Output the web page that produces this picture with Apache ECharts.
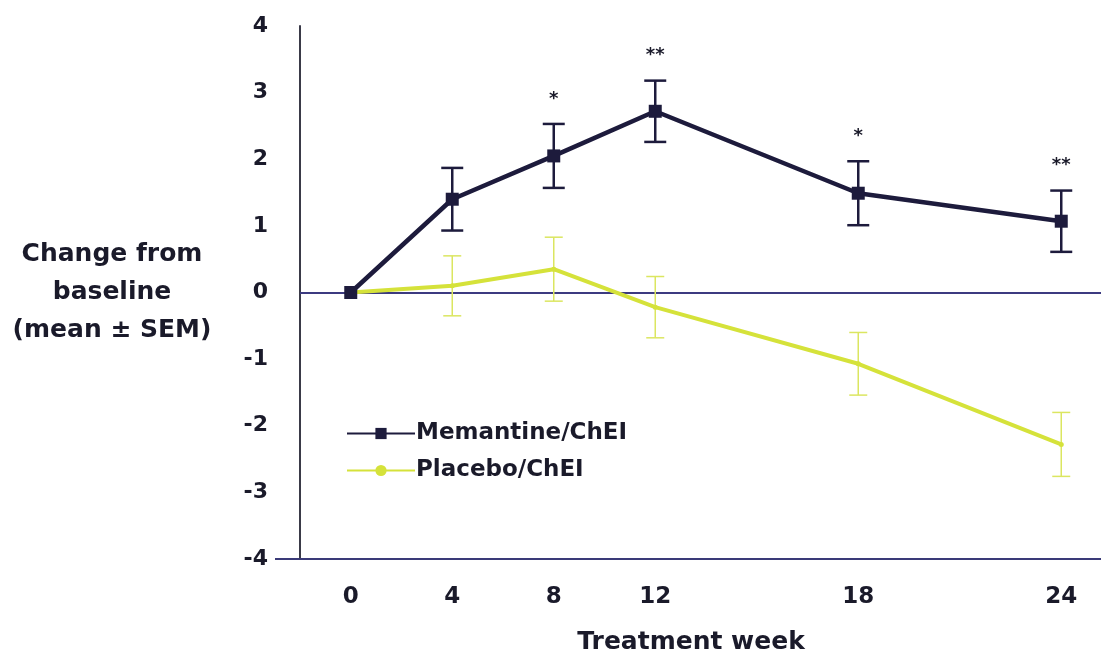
<!DOCTYPE html>
<html>
<head>
<meta charset="utf-8">
<script src="https://cdn.jsdelivr.net/npm/echarts@6/dist/echarts.min.js"></script>
<style>html,body{margin:0;padding:0;background:#fff;}#c{width:1101px;height:654px;}</style>
</head>
<body>
<div id="c"></div>
<script>
// Category slots along the x axis (blank slots keep the original uneven spacing)
var weeks = ['0', '4', '8', '12', '', '18', '', '24'];
var memMean = [0, 1.40, 2.05, 2.72, null, 1.49, null, 1.07];
var memSem  = [0, 0.47, 0.48, 0.46, null, 0.48, null, 0.46];
var plaMean = [0, 0.10, 0.35, -0.22, null, -1.07, null, -2.28];
var plaSem  = [0, 0.45, 0.48, 0.46, null, 0.47, null, 0.48];
var stars   = ['', '', '*', '**', '', '*', '', '**'];
var yTicks  = [-4, -3, -2, -1, 0, 1, 2, 3, 4];
var seriesNames = ['Memantine/ChEI', 'Placebo/ChEI'];

var memColor = '#1d1b3c';
var plaColor = '#d5e23a';
var textColor = '#1a1a2a';
var fontFam = '"DejaVu Sans", "Liberation Sans", Arial, sans-serif';

function errData(mean, sem) {
  var out = [];
  for (var i = 0; i < mean.length; i++) {
    if (mean[i] !== null && sem[i] > 0) out.push([i, mean[i] - sem[i], mean[i] + sem[i]]);
  }
  return out;
}
function errSeries(mean, sem, color, w, capW) {
  return {
    type: 'custom', silent: true, z: 3,
    data: errData(mean, sem),
    encode: { x: 0, y: [1, 2] },
    renderItem: function (params, api) {
      var lo = api.coord([api.value(0), api.value(1)]);
      var hi = api.coord([api.value(0), api.value(2)]);
      var h = capW / 2;
      var st = { stroke: color, lineWidth: w };
      return { type: 'group', children: [
        { type: 'line', shape: { x1: hi[0], y1: hi[1], x2: lo[0], y2: lo[1] }, style: st },
        { type: 'line', shape: { x1: hi[0] - h, y1: hi[1], x2: hi[0] + h, y2: hi[1] }, style: st },
        { type: 'line', shape: { x1: lo[0] - h, y1: lo[1], x2: lo[0] + h, y2: lo[1] }, style: st }
      ]};
    }
  };
}
var starData = [];
for (var i = 0; i < stars.length; i++) {
  if (stars[i]) starData.push([i, memMean[i] + memSem[i], stars[i]]);
}

var chart = echarts.init(document.getElementById('c'));
chart.setOption({
  animation: false,
  backgroundColor: '#ffffff',
  grid: { left: 300, top: 26, width: 812, height: 533, containLabel: false, outerBoundsMode: 'none' },
  legend: {
    orient: 'vertical', left: 341, top: 417, itemWidth: 68, itemHeight: 14, itemGap: 14,
    data: seriesNames,
    textStyle: { fontFamily: fontFam, fontWeight: 'bold', fontSize: 23, color: textColor, padding: [0, 0, 0, -4] }
  },
  xAxis: {
    type: 'category', data: weeks, boundaryGap: true,
    name: 'Treatment week', nameLocation: 'middle', nameGap: 71,
    nameTextStyle: { fontFamily: fontFam, fontWeight: 'bold', fontSize: 25, color: textColor, padding: [0, 30, 0, 0] },
    axisLine: { onZero: false, lineStyle: { color: '#3a3a78', width: 2 } },
    axisTick: { show: false },
    axisLabel: { interval: 0, margin: 27, fontFamily: fontFam, fontWeight: 'bold', fontSize: 23, color: textColor },
    splitLine: { show: false }
  },
  yAxis: {
    type: 'value', min: yTicks[0], max: yTicks[yTicks.length - 1], interval: 1,
    name: 'Change from\nbaseline\n(mean ± SEM)', nameLocation: 'middle', nameGap: 188, nameRotate: 0,
    nameTextStyle: { fontFamily: fontFam, fontWeight: 'bold', fontSize: 25, color: textColor, lineHeight: 38, align: 'center' },
    axisLine: { show: true, lineStyle: { color: '#3a3a48', width: 2 } },
    axisTick: { show: false },
    axisLabel: { margin: 32, fontFamily: fontFam, fontWeight: 'bold', fontSize: 22, color: textColor },
    splitLine: { show: false }
  },
  graphic: [
    { type: 'line', shape: { x1: 275, y1: 559, x2: 300, y2: 559 }, style: { stroke: '#3a3a78', lineWidth: 2 } }
  ],
  series: [
    errSeries(memMean, memSem, memColor, 2.5, 22),
    errSeries(plaMean, plaSem, '#dbe660', 1.5, 18),
    {
      name: seriesNames[1], type: 'line', data: plaMean, connectNulls: true, z: 4,
      symbol: 'circle', symbolSize: 5,
      lineStyle: { color: plaColor, width: 4 }, itemStyle: { color: plaColor },
      markLine: {
        silent: true, symbol: 'none', label: { show: false }, z: 1,
        lineStyle: { color: '#3c3a80', width: 2, type: 'solid' },
        data: [{ yAxis: 0 }]
      }
    },
    {
      name: seriesNames[0], type: 'line', data: memMean, connectNulls: true, z: 5,
      symbol: 'rect', symbolSize: 13,
      lineStyle: { color: memColor, width: 4.5 }, itemStyle: { color: memColor }
    },
    {
      type: 'custom', silent: true, z: 6, data: starData,
      encode: { x: 0, y: 1 },
      renderItem: function (params, api) {
        var p = api.coord([api.value(0), api.value(1)]);
        return { type: 'text', style: { x: p[0], y: p[1] - 16, text: starData[params.dataIndex][2],
          textAlign: 'center', textVerticalAlign: 'bottom', fill: textColor,
          font: 'bold 18px ' + fontFam } };
      }
    }
  ]
});
</script>
</body>
</html>
